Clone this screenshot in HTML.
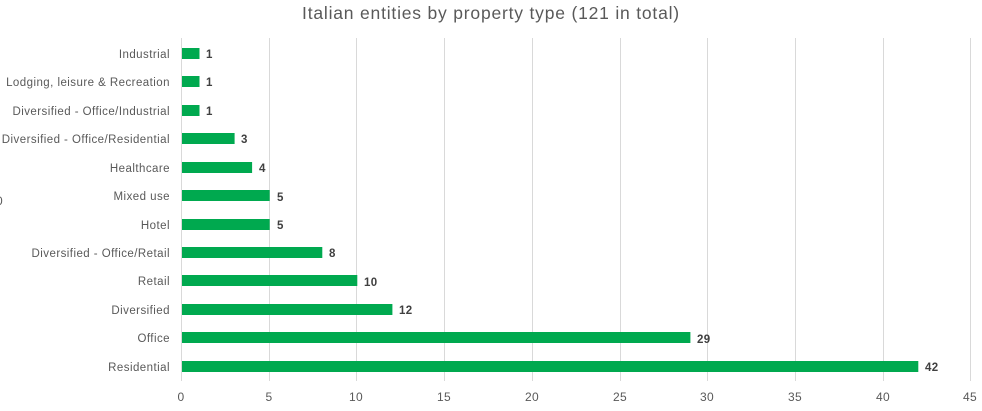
<!DOCTYPE html>
<html><head><style>
body{margin:0;background:#fff;}
svg text{font-family:"Liberation Sans",sans-serif;}
</style></head><body>
<svg width="982" height="406" xmlns="http://www.w3.org/2000/svg">
<text x="491" y="19" text-anchor="middle" font-size="17.5" letter-spacing="0.8" fill="#595959">Italian entities by property type (121 in total)</text>
<g stroke="#d9d9d9" stroke-width="1">
<line x1="181.5" y1="38" x2="181.5" y2="381"/>
<line x1="269.5" y1="38" x2="269.5" y2="381"/>
<line x1="356.5" y1="38" x2="356.5" y2="381"/>
<line x1="444.5" y1="38" x2="444.5" y2="381"/>
<line x1="532.5" y1="38" x2="532.5" y2="381"/>
<line x1="620.5" y1="38" x2="620.5" y2="381"/>
<line x1="707.5" y1="38" x2="707.5" y2="381"/>
<line x1="795.5" y1="38" x2="795.5" y2="381"/>
<line x1="883.5" y1="38" x2="883.5" y2="381"/>
<line x1="970.5" y1="38" x2="970.5" y2="381"/>
</g>
<g font-size="12" fill="#595959" text-anchor="middle" letter-spacing="0.3">
<text x="181" y="401">0</text><text x="269" y="401">5</text><text x="356" y="401">10</text><text x="444" y="401">15</text><text x="532" y="401">20</text><text x="620" y="401">25</text><text x="707" y="401">30</text><text x="795" y="401">35</text><text x="883" y="401">40</text><text x="970" y="401">45</text>
</g>
<g fill="#00a94f">
<rect x="182" y="48" width="17.5" height="11"/>
<rect x="182" y="76" width="17.5" height="11"/>
<rect x="182" y="105" width="17.5" height="11"/>
<rect x="182" y="133" width="52.6" height="11"/>
<rect x="182" y="162" width="70.1" height="11"/>
<rect x="182" y="190" width="87.7" height="11"/>
<rect x="182" y="219" width="87.7" height="11"/>
<rect x="182" y="247" width="140.3" height="11"/>
<rect x="182" y="275" width="175.3" height="11"/>
<rect x="182" y="304" width="210.4" height="11"/>
<rect x="182" y="332" width="508.4" height="11"/>
<rect x="182" y="361" width="736.3" height="11"/>
</g>
<g font-size="11.5" fill="#595959" text-anchor="end" letter-spacing="0.45">
<text x="170" y="58">Industrial</text>
<text x="170" y="86">Lodging, leisure &amp; Recreation</text>
<text x="170" y="115">Diversified - Office/Industrial</text>
<text x="170" y="143">Diversified - Office/Residential</text>
<text x="170" y="172">Healthcare</text>
<text x="170" y="200">Mixed use</text>
<text x="170" y="229">Hotel</text>
<text x="170" y="257">Diversified - Office/Retail</text>
<text x="170" y="285">Retail</text>
<text x="170" y="314">Diversified</text>
<text x="170" y="342">Office</text>
<text x="170" y="371">Residential</text>
</g>
<g font-size="11.5" font-weight="bold" fill="#404040" letter-spacing="0.4">
<text x="206" y="58">1</text>
<text x="206" y="86">1</text>
<text x="206" y="115">1</text>
<text x="241" y="143">3</text>
<text x="259" y="172">4</text>
<text x="277" y="201">5</text>
<text x="277" y="229">5</text>
<text x="329" y="257">8</text>
<text x="364" y="286">10</text>
<text x="399" y="314">12</text>
<text x="697" y="343">29</text>
<text x="925" y="371">42</text>
</g>
<text x="-4" y="205" font-size="12" fill="#595959">0</text>
</svg>
</body></html>
